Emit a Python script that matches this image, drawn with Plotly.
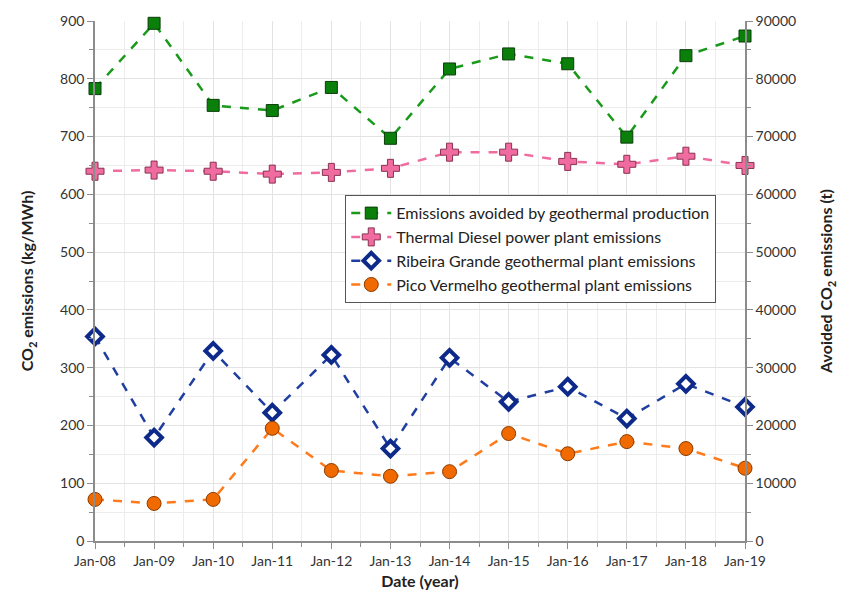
import plotly.graph_objects as go

years = ["Jan-08", "Jan-09", "Jan-10", "Jan-11", "Jan-12", "Jan-13",
         "Jan-14", "Jan-15", "Jan-16", "Jan-17", "Jan-18", "Jan-19"]
avoided_t = [78300, 89600, 75400, 74500, 78500, 69700,
             81700, 84300, 82600, 69900, 84000, 87400]
diesel = [640, 642, 640, 635, 638, 645, 673, 673, 657, 652, 666, 650]
ribeira = [354, 179, 329, 222, 322, 160, 317, 241, 267, 212, 272, 232]
pico = [72, 65, 72, 195, 122, 112, 120, 186, 151, 172, 160, 126]

x = list(range(len(years)))
FONT = "Lato, 'Open Sans', sans-serif"

fig = go.Figure()

fig.add_trace(go.Scatter(
    x=x, y=avoided_t, yaxis="y2", name="Emissions avoided by geothermal production",
    mode="lines+markers", cliponaxis=False,
    line=dict(color="#1a9a1a", width=2.5, dash="dash"),
    marker=dict(symbol="square", size=12, color="#0a7f0a",
                line=dict(color="#0b3d0b", width=1)),
))
fig.add_trace(go.Scatter(
    x=x, y=diesel, name="Thermal Diesel power plant emissions",
    mode="lines+markers", cliponaxis=False,
    line=dict(color="#f06ca0", width=2.5, dash="dash"),
    marker=dict(symbol="cross", size=15, color="#f06ca0",
                line=dict(color="#8a3050", width=1)),
))
fig.add_trace(go.Scatter(
    x=x, y=ribeira, name="Ribeira Grande geothermal plant emissions",
    mode="lines+markers", cliponaxis=False,
    line=dict(color="#1f3fa0", width=2.5, dash="dash"),
    marker=dict(symbol="diamond", size=12, color="white",
                line=dict(color="#0d2a8a", width=4)),
))
fig.add_trace(go.Scatter(
    x=x, y=pico, name="Pico Vermelho geothermal plant emissions",
    mode="lines+markers", cliponaxis=False,
    line=dict(color="#ff7a1a", width=2.5, dash="dash"),
    marker=dict(symbol="circle", size=14, color="#f06a00",
                line=dict(color="#8a3a00", width=1)),
))

axis_common = dict(
    showline=True, linecolor="#8c8c8c", linewidth=1.5,
    ticks="outside", tickcolor="#8c8c8c", ticklen=6,
    tickfont=dict(family=FONT, size=14, color="#333"),
    gridcolor="#e3e3e3", zeroline=False,
)

fig.update_layout(
    width=849, height=604,
    margin=dict(l=95, r=104, t=18, b=63),
    paper_bgcolor="white", plot_bgcolor="white",
    font=dict(family=FONT, color="#222"),
    xaxis=dict(
        **axis_common, range=[0, 11], tickvals=x, ticktext=years,
        showgrid=True,
        minor=dict(dtick=0.5, tick0=0, ticks="outside", ticklen=4,
                   tickcolor="#8c8c8c", showgrid=True, gridcolor="#ececec"),
        title=dict(text="<b>Date (year)</b>", font=dict(family=FONT, size=16),
                   standoff=8),
    ),
    yaxis=dict(
        **axis_common, range=[0, 900], dtick=100, showgrid=True,
        minor=dict(dtick=50, ticks="outside", ticklen=4,
                   tickcolor="#8c8c8c", showgrid=True, gridcolor="#ececec"),
        title=dict(text="<b>CO<sub>2</sub> emissions (kg/MWh)</b>",
                   font=dict(family=FONT, size=16), standoff=22),
    ),
    yaxis2=dict(
        **axis_common, range=[0, 90000], dtick=10000, tickformat="d",
        overlaying="y", side="right", showgrid=False,
        minor=dict(dtick=5000, ticks="outside", ticklen=4, tickcolor="#8c8c8c"),
        title=dict(text="<b>Avoided CO<sub>2</sub> emissions (t)</b>",
                   font=dict(family=FONT, size=16), standoff=26),
    ),
    legend=dict(
        x=0.385, y=0.665, xanchor="left", yanchor="top",
        bgcolor="white", bordercolor="#555", borderwidth=1,
        font=dict(family=FONT, size=16, color="#222"),
        tracegroupgap=0, itemwidth=40,
    ),
)

fig.write_html("out.html")
